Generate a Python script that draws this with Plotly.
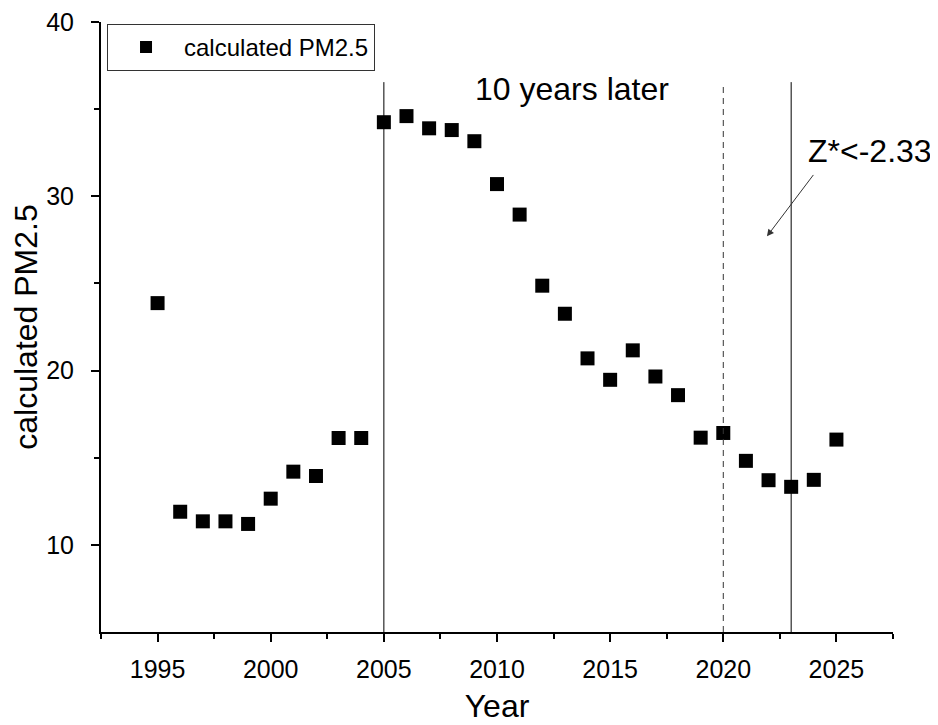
import plotly.graph_objects as go

years = list(range(1995, 2026))
pm25 = [23.87, 11.9, 11.35, 11.35, 11.2, 12.65, 14.2, 13.95, 16.13, 16.13,
        34.25, 34.6, 33.9, 33.8, 33.16, 30.7, 28.95, 24.87, 23.26, 20.7,
        19.47, 21.16, 19.66, 18.59, 16.15, 16.42, 14.82, 13.71, 13.33, 13.73, 16.04]

solid_lines = [2005, 2023]
dashed_lines = [2020]
line_top = 36.55

x_ticks = [1995, 2000, 2005, 2010, 2015, 2020, 2025]
x_minor = [1992.5, 1997.5, 2002.5, 2007.5, 2012.5, 2017.5, 2022.5, 2027.5]
y_ticks = [10, 20, 30, 40]
y_minor = [15, 25, 35]

FONT = "Arial, Liberation Sans, sans-serif"

fig = go.Figure()
fig.add_trace(go.Scatter(
    x=years, y=pm25, mode="markers", name="calculated PM2.5",
    marker=dict(symbol="square", size=14, color="black"),
))

shapes = []
for yr in solid_lines:
    shapes.append(dict(type="line", xref="x", yref="y", x0=yr, x1=yr, y0=5, y1=line_top,
                       line=dict(color="black", width=1)))
for yr in dashed_lines:
    shapes.append(dict(type="line", xref="x", yref="y", x0=yr, x1=yr, y0=5, y1=line_top,
                       line=dict(color="#333333", width=1, dash="6px,5px")))

fig.update_layout(
    width=938, height=725,
    margin=dict(l=93, r=53, t=14, b=101),
    plot_bgcolor="white", paper_bgcolor="white",
    font=dict(family=FONT, color="black", size=25),
    shapes=shapes,
    showlegend=True,
    legend=dict(x=0.0076, y=0.997, xanchor="left", yanchor="top",
                bordercolor="#333333", borderwidth=1, bgcolor="white",
                font=dict(size=24, family=FONT), itemsizing="constant", itemwidth=66),
    xaxis=dict(range=[1992.5, 2027.5], tickmode="array", tickvals=x_ticks, automargin=False,
               showgrid=False, zeroline=False, showline=True, linecolor="black", linewidth=2,
               ticks="outside", ticklen=8, tickwidth=2, tickcolor="black", ticklabelstandoff=6,
               ticklabeloverflow="allow",
               minor=dict(tickvals=x_minor, ticks="outside", ticklen=5, tickwidth=2, tickcolor="black"),
               tickfont=dict(size=25, family=FONT),
               title=dict(text="Year", font=dict(size=32, family=FONT), standoff=13)),
    yaxis=dict(range=[5, 40], tickmode="array", tickvals=y_ticks, automargin=False,
               showgrid=False, zeroline=False, showline=True, linecolor="black", linewidth=2,
               ticks="outside", ticklen=8, tickwidth=2, tickcolor="black", ticklabelstandoff=12,
               ticklabeloverflow="allow",
               minor=dict(tickvals=y_minor, ticks="outside", ticklen=5, tickwidth=2, tickcolor="black"),
               tickfont=dict(size=25, family=FONT),
               title=dict(text="calculated PM2.5", font=dict(size=32, family=FONT), standoff=6)),
    annotations=[
        dict(x=2013.3, y=36.15, xref="x", yref="y", text="10 years later", showarrow=False,
             font=dict(size=32, family=FONT), xanchor="center", yanchor="middle"),
        dict(x=2021.93, y=27.7, xref="x", yref="y", ax=2024.03, ay=31.31, axref="x", ayref="y",
             text="", showarrow=True, arrowhead=2, arrowsize=1.4, arrowwidth=1, arrowcolor="#333333"),
        dict(x=2026.5, y=32.6, xref="x", yref="y", text="Z*<-2.33", showarrow=False,
             font=dict(size=32, family=FONT), xanchor="center", yanchor="middle"),
    ],
)

fig.write_html("out.html")
